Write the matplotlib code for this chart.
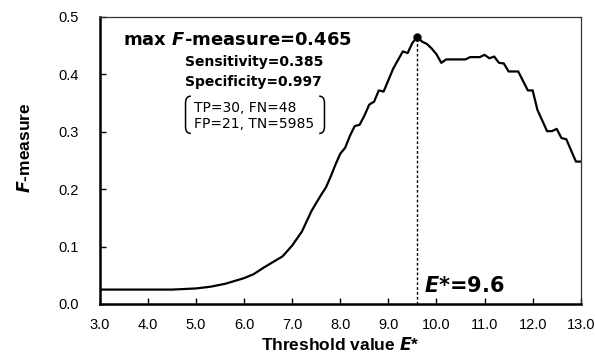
import matplotlib
matplotlib.use("Agg")
import matplotlib.pyplot as plt
from matplotlib.path import Path
from matplotlib.patches import PathPatch

# threshold value E* vs F-measure
threshold = [3.0, 4.0, 4.5, 5.0, 5.3, 5.6, 5.8, 6.0, 6.2, 6.4, 6.6, 6.8, 7.0, 7.2, 7.4,
             7.6, 7.7, 7.8, 7.9, 8.0, 8.1, 8.2, 8.3, 8.4, 8.5, 8.6, 8.65, 8.7, 8.8, 8.9,
             9.0, 9.1, 9.2, 9.3, 9.4, 9.5, 9.6, 9.7, 9.8, 9.9, 10.0, 10.1, 10.2, 10.6,
             10.7, 10.9, 11.0, 11.1, 11.2, 11.3, 11.4, 11.5, 11.7, 11.9, 12.0, 12.1,
             12.3, 12.4, 12.5, 12.6, 12.7, 12.9, 13.0]
fmeasure = [0.025, 0.025, 0.025, 0.027, 0.030, 0.035, 0.040, 0.045, 0.052, 0.063, 0.073,
            0.083, 0.102, 0.126, 0.162, 0.190, 0.203, 0.222, 0.243, 0.262, 0.272, 0.293,
            0.310, 0.312, 0.328, 0.347, 0.350, 0.352, 0.372, 0.370, 0.390, 0.410, 0.425,
            0.440, 0.437, 0.455, 0.465, 0.457, 0.453, 0.445, 0.435, 0.420, 0.426, 0.426,
            0.430, 0.430, 0.434, 0.428, 0.431, 0.420, 0.419, 0.405, 0.405, 0.372, 0.372,
            0.338, 0.301, 0.301, 0.305, 0.289, 0.287, 0.248, 0.248]

best_e = 9.6
best_f = 0.465
x_ticks = [3.0, 4.0, 5.0, 6.0, 7.0, 8.0, 9.0, 10.0, 11.0, 12.0, 13.0]
y_ticks = [0.0, 0.1, 0.2, 0.3, 0.4, 0.5]

ann_font = "DejaVu Sans"
tick_font = "Liberation Sans"


def bracket(ax, x, y0, y1, w, side):
    # thin round bracket, w > 0 is how far the ends curl inward
    d = w if side == "left" else -w
    c = (y1 - y0) * 0.18
    verts = [(x + d, y1), (x, y1), (x, y1 - c), (x, y0 + c), (x, y0), (x + d, y0)]
    codes = [Path.MOVETO, Path.CURVE3, Path.CURVE3, Path.LINETO, Path.CURVE3, Path.CURVE3]
    ax.add_patch(PathPatch(Path(verts, codes), fill=False, lw=1.1, color="black"))


fig = plt.figure(figsize=(5.95, 3.53), dpi=100)
ax = fig.add_axes([0.168, 0.139, 0.808, 0.813])

ax.plot(threshold, fmeasure, color="black", lw=1.6)
ax.plot([best_e], [best_f], "o", color="black", ms=5)
ax.plot([best_e, best_e], [0, best_f], color="black", lw=1.0, ls=(0, (2, 1.5)))

ax.set_xlim(3.0, 13.0)
ax.set_ylim(0.0, 0.5)
ax.set_xticks(x_ticks)
ax.set_yticks(y_ticks)
ax.set_xticklabels([f"{v:.1f}" for v in x_ticks], fontname=tick_font, fontsize=10.5)
ax.set_yticklabels([f"{v:.1f}" for v in y_ticks], fontname=tick_font, fontsize=10.5)
ax.tick_params(direction="in", length=4, width=1.0)
ax.tick_params(axis="x", pad=10)
ax.tick_params(axis="y", pad=15)

for s in ["left", "bottom"]:
    ax.spines[s].set_linewidth(1.8)
for s in ["top", "right"]:
    ax.spines[s].set_linewidth(0.9)
    ax.spines[s].set_color("#333333")

ax.set_xlabel("Threshold value $\\bfit{E}$*", fontname=tick_font, fontsize=12.5,
              fontweight="bold", va="center")
ax.xaxis.set_label_coords(0.5, -0.143)
ax.set_ylabel("$\\bfit{F}$-measure", fontname=tick_font, fontsize=12.5,
              fontweight="bold", va="center")
ax.yaxis.set_label_coords(-0.156, 0.545)

# annotations
ax.text(3.478, 0.451, "max $\\bfit{F}$-measure=0.465", family=ann_font, fontsize=13,
        fontweight="bold", va="baseline", ha="left")
ax.text(4.767, 0.415, "Sensitivity=0.385", family=ann_font, fontsize=10,
        fontweight="bold", va="baseline", ha="left")
ax.text(4.767, 0.379, "Specificity=0.997", family=ann_font, fontsize=10,
        fontweight="bold", va="baseline", ha="left")
ax.text(4.96, 0.335, "TP=30, FN=48", family=ann_font, fontsize=10,
        va="baseline", ha="left")
ax.text(4.96, 0.306, "FP=21, TN=5985", family=ann_font, fontsize=10,
        va="baseline", ha="left")
bracket(ax, 4.78, 0.297, 0.362, 0.11, "left")
bracket(ax, 7.67, 0.297, 0.362, 0.11, "right")
ax.text(9.75, 0.0214, "$\\bfit{E}$*=9.6", family=ann_font, fontsize=15,
        fontweight="bold", va="baseline", ha="left")

fig.savefig("out.png", dpi=100)
